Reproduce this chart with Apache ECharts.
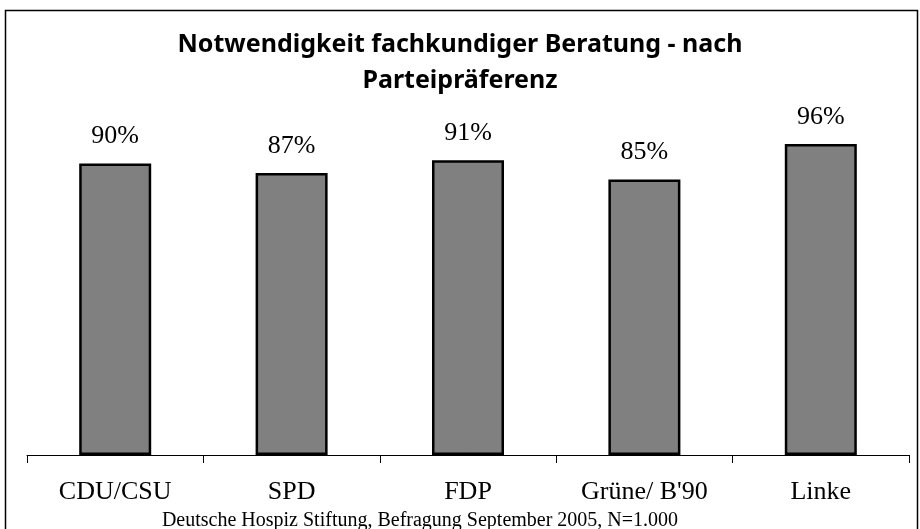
<!DOCTYPE html>
<html>
<head>
<meta charset="utf-8">
<script src="https://cdn.jsdelivr.net/npm/echarts@6/dist/echarts.min.js"></script>
<style>
html, body { margin: 0; padding: 0; background: #fff; }
#main { width: 920px; height: 529px; }
</style>
</head>
<body>
<div id="main"></div>
<script>
var categories = ['CDU/CSU', 'SPD', 'FDP', 'Grüne/ B\'90', 'Linke'];
var values = [90, 87, 91, 85, 96];

var myChart = echarts.init(document.getElementById('main'));

var serif = '"Liberation Serif", "DejaVu Serif", serif';

option = {
    backgroundColor: '#fff',
    animation: false,
    title: {
        text: 'Notwendigkeit fachkundiger Beratung - nach\nParteipräferenz',
        left: 'center',
        top: 22,
        textStyle: {
            fontFamily: '"Noto Sans", "Open Sans", sans-serif',
            fontWeight: 'bold',
            fontSize: 25,
            lineHeight: 36,
            color: '#000'
        }
    },
    grid: {
        left: 27,
        right: 11,
        top: 131,
        bottom: 74
    },
    xAxis: {
        type: 'category',
        data: categories,
        boundaryGap: true,
        axisLine: { lineStyle: { color: '#000', width: 1 } },
        axisTick: { show: true, length: 8, lineStyle: { color: '#000' } },
        axisLabel: {
            color: '#000',
            fontFamily: serif,
            fontSize: 26,
            margin: 24
        }
    },
    yAxis: {
        type: 'value',
        min: 0,
        max: 100,
        show: false
    },
    series: [{
        type: 'bar',
        data: values,
        barWidth: 72,
        itemStyle: {
            color: '#808080',
            borderColor: '#000',
            borderWidth: 2.5
        },
        label: {
            show: true,
            position: 'top',
            distance: 14,
            formatter: '{c}%',
            color: '#000',
            fontFamily: serif,
            fontSize: 26
        }
    }],
    graphic: [{
        type: 'rect',
        shape: { x: 5.5, y: 10.5, width: 912, height: 540 },
        style: { fill: null, stroke: '#000', lineWidth: 1.5 },
        silent: true
    }, {
        type: 'text',
        x: 420,
        y: 521,
        style: {
            text: 'Deutsche Hospiz Stiftung, Befragung September 2005, N=1.000',
            fontFamily: serif,
            fontSize: 20,
            fill: '#000',
            align: 'center',
            verticalAlign: 'middle'
        }
    }]
};

myChart.setOption(option);
</script>
</body>
</html>
